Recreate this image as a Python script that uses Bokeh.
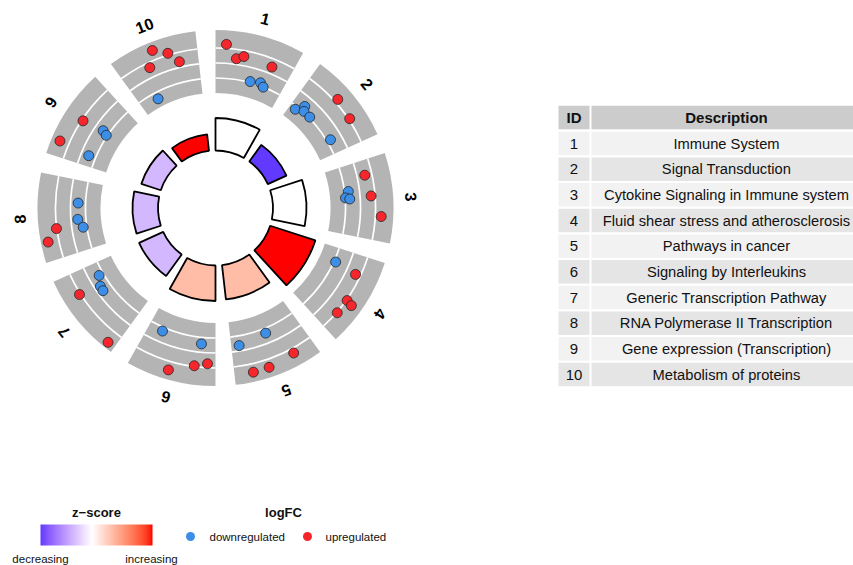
import numpy as np
from bokeh.plotting import figure
from bokeh.models import ColumnDataSource, LinearColorMapper
from bokeh.core.properties import value
from bokeh.embed import file_html
from bokeh.resources import INLINE

# ---------------------------------------------------------------- data
term_ids = [1, 2, 3, 4, 5, 6, 7, 8, 9, 10]
term_desc = [
    "Immune System",
    "Signal Transduction",
    "Cytokine Signaling in Immune system",
    "Fluid shear stress and atherosclerosis",
    "Pathways in cancer",
    "Signaling by Interleukins",
    "Generic Transcription Pathway",
    "RNA Polymerase II Transcription",
    "Gene expression (Transcription)",
    "Metabolism of proteins",
]
# inner bars: height = -log10(adjusted p), colour = z-score
neg_log10_padj = [6.5, 4.1, 6.7, 9.5, 6.9, 7.1, 5.3, 5.1, 4.1, 3.3]
zscore = [0.0, -2.2, 0.0, 2.6, 0.9, 0.9, -0.8, -0.8, -0.8, 2.6]

# genes of each term: term id, position inside the term segment (0..1), logFC
gene_term = [1] * 7 + [2] * 7 + [3] * 6 + [4] * 5 + [5] * 5 + [6] * 5 + [7] * 5 + [8] * 5 + [9] * 5 + [10] * 5
gene_pos = [
    0.13, 0.27, 0.36, 0.74, 0.52, 0.67, 0.73,
    0.10, 0.18, 0.22, 0.34, 0.42, 0.69, 0.79,
    0.37, 0.46, 0.48, 0.19, 0.46, 0.71,
    0.21, 0.25, 0.58, 0.60, 0.77,
    0.48, 0.89, 0.26, 0.59, 0.78,
    0.20, 0.79, 0.10, 0.26, 0.55,
    0.81, 0.67, 0.60, 0.73, 0.09,
    0.68, 0.45, 0.33, 0.36, 0.22,
    0.18, 0.52, 0.56, 0.53, 0.15,
    0.48, 0.64, 0.75, 0.37, 0.28,
]
gene_logfc = [
    2.53, 0.76, 1.21, 0.91, -1.85, -1.60, -2.01,
    -2.41, -1.31, -1.87, -1.88, 2.47, 2.16, -1.51,
    -1.49, -1.95, -1.39, 1.04, 1.48, 2.79,
    -1.77, 1.33, 2.12, 2.97, 2.08,
    -1.36, -0.72, 2.63, 3.08, 3.13,
    -1.12, -1.47, 1.47, 1.89, 3.15,
    -1.40, -0.77, -0.71, 2.16, 3.60,
    -1.01, -0.91, -1.51, 2.05, 3.44,
    3.25, 1.81, -1.15, -1.84, -1.05,
    3.29, 2.25, 0.75, 1.33, -2.89,
]
logfc_grid = [-2, 0, 2]
legend_lfc_labels = ["downregulated", "upregulated"]

# ---------------------------------------------------------------- layout
W, H = 853, 565
CX, CY = 215.0, 357.5
SEG_STEP, SEG_SPAN = 36.0, 29.5          # degrees per term, drawn width
BAR_R0, BAR_SCALE = 57.5, 5.0            # inner bar base radius, px per -log10 p
RING_R0, RING_R1 = 115.0, 178.0          # grey ring
LFC_R0, LFC_SCALE = 145.0, 7.5           # radius of logFC 0, px per logFC unit
LABEL_R = 196.0

RED, BLUE = "#f5262c", "#3c8ee6"
GREY = "#b4b4b4"
FONT = value("Liberation Sans")


# ggplot-like diverging palette interpolated in CIE Lab
_M = np.array([[0.4124564, 0.3575761, 0.1804375],
               [0.2126729, 0.7151522, 0.0721750],
               [0.0193339, 0.1191920, 0.9503041]])
_WHITE = np.array([0.95047, 1.0, 1.08883])


def _to_lab(hexc):
    rgb = np.array([int(hexc[i:i + 2], 16) / 255.0 for i in (1, 3, 5)])
    lin = np.where(rgb <= 0.04045, rgb / 12.92, ((rgb + 0.055) / 1.055) ** 2.4)
    xyz = _M @ lin / _WHITE
    d = 6 / 29
    f = np.where(xyz > d ** 3, np.cbrt(xyz), xyz / (3 * d * d) + 4 / 29)
    return np.array([116 * f[1] - 16, 500 * (f[0] - f[1]), 200 * (f[1] - f[2])])


def _from_lab(lab):
    d = 6 / 29
    fy = (lab[0] + 16) / 116
    f = np.array([fy + lab[1] / 500, fy, fy - lab[2] / 200])
    xyz = np.where(f > d, f ** 3, 3 * d * d * (f - 4 / 29)) * _WHITE
    lin = np.clip(np.linalg.inv(_M) @ xyz, 0, 1)
    rgb = np.where(lin <= 0.0031308, 12.92 * lin, 1.055 * lin ** (1 / 2.4) - 0.055)
    return "#%02x%02x%02x" % tuple(int(round(c * 255)) for c in np.clip(rgb, 0, 1))


def diverging(low, mid, high, n=128):
    a, b, c = _to_lab(low), _to_lab(mid), _to_lab(high)
    left = [_from_lab(a + (b - a) * t) for t in np.linspace(0, 1, n)]
    right = [_from_lab(b + (c - b) * t) for t in np.linspace(0, 1, n)[1:]]
    return left + right


zlim = max(abs(z) for z in zscore)
mapper = LinearColorMapper(palette=diverging("#0000ff", "#ffffff", "#ff0000"), low=-zlim, high=zlim)

p = figure(width=W, height=H, x_range=(0, W), y_range=(0, H),
           output_backend="svg", toolbar_location=None,
           x_axis_location=None, y_axis_location=None, min_border=0)
p.outline_line_color = None
p.background_fill_color = "white"
p.border_fill_color = "white"
p.xgrid.visible = False
p.ygrid.visible = False

# ---------------------------------------------------------------- term segments
seg_start = np.radians([90.0 - SEG_STEP * (i - 1) for i in term_ids])
seg_end = seg_start - np.radians(SEG_SPAN)

ring = ColumnDataSource(dict(a0=seg_end, a1=seg_start))
p.annular_wedge(x=CX, y=CY, inner_radius=RING_R0, outer_radius=RING_R1,
                start_angle="a0", end_angle="a1", source=ring,
                fill_color=GREY, line_color=None)

for lv in logfc_grid:
    p.arc(x=CX, y=CY, radius=LFC_R0 + lv * LFC_SCALE, start_angle="a0", end_angle="a1",
          source=ring, line_color="white", line_width=1.7)

bars = ColumnDataSource(dict(a0=seg_end, a1=seg_start, z=zscore,
                             r1=[BAR_R0 + v * BAR_SCALE for v in neg_log10_padj]))
p.annular_wedge(x=CX, y=CY, inner_radius=BAR_R0, outer_radius="r1",
                start_angle="a0", end_angle="a1", source=bars,
                fill_color={"field": "z", "transform": mapper},
                line_color="black", line_width=1.8)

# genes as points: angle from position in the segment, radius from logFC
g_theta = np.array([seg_start[t - 1] - f * np.radians(SEG_SPAN) for t, f in zip(gene_term, gene_pos)])
g_r = LFC_R0 + np.array(gene_logfc) * LFC_SCALE
genes = ColumnDataSource(dict(x=CX + g_r * np.cos(g_theta), y=CY + g_r * np.sin(g_theta),
                              c=[RED if v > 0 else BLUE for v in gene_logfc]))
p.scatter(x="x", y="y", source=genes, size=10, fill_color="c",
          line_color="#262626", line_width=0.8)

# term numbers around the circle
mid = (seg_start + seg_end) / 2
p.text(x=CX + LABEL_R * np.cos(mid), y=CY + LABEL_R * np.sin(mid),
       text=[str(i) for i in term_ids], angle=mid - np.pi / 2,
       text_align="center", text_baseline="middle", text_font=FONT,
       text_font_size="16px", text_font_style="bold", text_color="black")

# ---------------------------------------------------------------- table
ROW0, ROW_STEP, ROW_H = 565 - 143.0, 25.67, 23.5
HEAD_Y = 565 - 117.0
ID_L, ID_R, DS_L, DS_R = 558, 589, 591, 900
DESC_X = 726
row_y = [ROW0 - ROW_STEP * i for i in range(len(term_ids))]
row_fill = ["#f2f2f2" if i % 2 == 0 else "#e5e5e5" for i in range(len(term_ids))]

p.quad(left=[ID_L, DS_L], right=[ID_R, DS_R], bottom=HEAD_Y - ROW_H / 2,
       top=HEAD_Y + ROW_H / 2, fill_color="#cccccc", line_color=None)
p.quad(left=ID_L, right=ID_R, bottom=[y - ROW_H / 2 for y in row_y],
       top=[y + ROW_H / 2 for y in row_y], fill_color=row_fill, line_color=None)
p.quad(left=DS_L, right=DS_R, bottom=[y - ROW_H / 2 for y in row_y],
       top=[y + ROW_H / 2 for y in row_y], fill_color=row_fill, line_color=None)

p.text(x=[(ID_L + ID_R) / 2, DESC_X], y=HEAD_Y, text=["ID", "Description"],
       text_align="center", text_baseline="middle", text_font=FONT,
       text_font_size="15px", text_font_style="bold", text_color="#111111")
p.text(x=(ID_L + ID_R) / 2, y=row_y, text=[str(i) for i in term_ids],
       text_align="center", text_baseline="middle", text_font=FONT,
       text_font_size="15px", text_color="#111111")
p.text(x=DESC_X, y=row_y, text=term_desc,
       text_align="center", text_baseline="middle", text_font=FONT,
       text_font_size="14.7px", text_color="#111111")

# ---------------------------------------------------------------- legends
zgrid = np.linspace(min(zscore), max(zscore), 240).reshape(1, -1)
p.image(image=[zgrid], x=40, y=20, dw=112, dh=21, color_mapper=mapper)
p.text(x=96, y=53, text=["z\u2212score"], text_align="center", text_baseline="middle",
       text_font=FONT, text_font_size="13px", text_font_style="bold", text_color="#111111")
p.text(x=[40, 151], y=6.5, text=["decreasing", "increasing"], text_align="center",
       text_baseline="alphabetic", text_font=FONT, text_font_size="11.5px", text_color="#111111")

p.text(x=283, y=53, text=["logFC"], text_align="center", text_baseline="middle",
       text_font=FONT, text_font_size="13px", text_font_style="bold", text_color="#111111")
p.scatter(x=[190, 307], y=29, size=9, fill_color=[BLUE, RED], line_color=None)
p.text(x=[209, 325], y=29, text=legend_lfc_labels, text_align="left", text_baseline="middle",
       text_font=FONT, text_font_size="11.5px", text_color="#111111")

open("out.html", "w").write(file_html(p, INLINE))
